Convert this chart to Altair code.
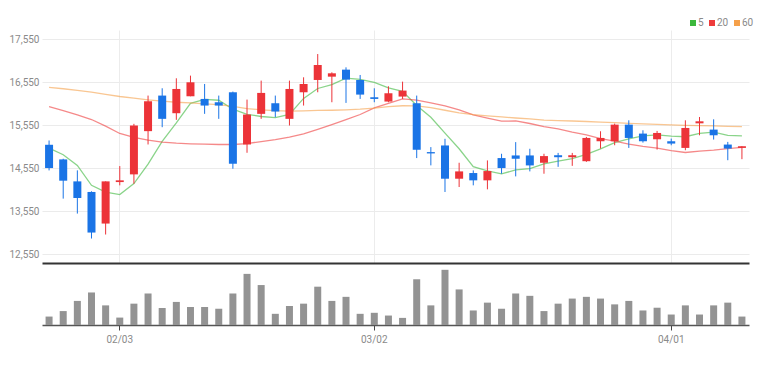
import altair as alt
import pandas as pd

dates = ["01/24", "01/25", "01/26", "01/27", "01/28",
         "02/03", "02/04", "02/07", "02/08", "02/09", "02/10", "02/11",
         "02/14", "02/15", "02/16", "02/17", "02/18",
         "02/21", "02/22", "02/23", "02/24", "02/25", "02/28",
         "03/02", "03/03", "03/04", "03/07", "03/08", "03/10", "03/11",
         "03/14", "03/15", "03/16", "03/17", "03/18",
         "03/21", "03/22", "03/23", "03/24", "03/25",
         "03/28", "03/29", "03/30", "03/31", "04/01",
         "04/04", "04/05", "04/06", "04/07", "04/08"]

open_ = [15097, 14757, 14246, 14000, 13265, 14230, 14409, 15414, 16241, 15831,
         16225, 16163, 16086, 16318, 15104, 15816, 16063, 15700, 16318, 16604,
         16681, 16844, 16604, 16202, 16102, 16218, 16063, 14927, 15081, 14308,
         14440, 14270, 14788, 14849, 14849, 14679, 14854, 14808, 14715, 15179,
         15179, 15565, 15357, 15225, 15179, 15024, 15596, 15450, 15102, 15024]
high = [15197, 14772, 14502, 14015, 14246, 14602, 15584, 16241, 16411, 16643,
        16705, 16511, 16241, 16334, 16148, 16589, 16241, 16589, 16666, 17207,
        16782, 16898, 16720, 16411, 16457, 16565, 16241, 15043, 15236, 14679,
        14501, 14733, 14888, 15159, 15004, 14888, 14908, 14908, 15279, 15411,
        15589, 15666, 15434, 15419, 15241, 15666, 15743, 15689, 15164, 15063]
low = [14501, 13845, 13497, 12917, 13010, 14154, 14192, 15104, 15506, 15677,
       16225, 15816, 15700, 14540, 14911, 15700, 15738, 15545, 16009, 16318,
       16086, 16071, 16163, 16086, 16086, 16163, 14788, 14618, 13999, 14115,
       14154, 14061, 14424, 14362, 14478, 14424, 14584, 14607, 14700, 15009,
       15086, 15024, 15148, 14986, 15086, 14970, 15318, 15218, 14738, 14762]
close = [14556, 14262, 13860, 13056, 14246, 14270, 15545, 16109, 15700, 16395,
         16550, 16009, 16009, 14656, 15800, 16303, 15870, 16395, 16511, 16952,
         16759, 16612, 16264, 16163, 16295, 16357, 14981, 14896, 14308, 14478,
         14270, 14486, 14556, 14772, 14617, 14834, 14808, 14854, 15256, 15256,
         15565, 15256, 15179, 15372, 15125, 15488, 15643, 15318, 15009, 15063]
volume = [83, 137, 237, 320, 193, 73, 210, 310, 167, 227,
          177, 177, 160, 310, 503, 393, 110, 187, 210, 377,
          237, 277, 110, 120, 93, 70, 450, 193, 543, 350,
          143, 220, 160, 310, 287, 137, 210, 260, 277, 260,
          203, 237, 143, 170, 103, 193, 103, 193, 220, 83]

ma5 = [15019, 14865, 14617, 14154, 13996, 13939, 14195, 14645, 15174, 15604,
       16060, 16153, 16133, 15924, 15805, 15755, 15728, 15805, 16176, 16406,
       16497, 16646, 16620, 16550, 16419, 16338, 16012, 15738, 15367, 15004,
       14587, 14488, 14420, 14512, 14540, 14653, 14717, 14777, 14874, 15002,
       15148, 15237, 15302, 15326, 15299, 15284, 15361, 15389, 15317, 15304]
ma20 = [15986, 15893, 15792, 15684, 15530, 15360, 15267, 15205, 15159, 15135,
        15120, 15112, 15104, 15104, 15126, 15172, 15218, 15274, 15350, 15453,
        15563, 15680, 15801, 15956, 16058, 16163, 16135, 16074, 16004, 15908,
        15794, 15718, 15646, 15651, 15592, 15519, 15466, 15389, 15326, 15241,
        15181, 15114, 15059, 15020, 14961, 14918, 14951, 14972, 15007, 15036]
ma60 = [16434, 16400, 16360, 16320, 16270, 16220, 16180, 16140, 16110, 16086,
        16070, 16050, 16030, 15990, 15940, 15910, 15890, 15880, 15885, 15895,
        15900, 15910, 15925, 15950, 15985, 16005, 16000, 15960, 15900, 15840,
        15800, 15770, 15745, 15720, 15700, 15670, 15660, 15650, 15638, 15625,
        15610, 15597, 15585, 15572, 15560, 15550, 15542, 15535, 15527, 15520]

y_ticks = [12550, 13550, 14550, 15550, 16550, 17550]
x_ticks = ["02/03", "03/02", "04/01"]
ma_names = ["5", "20", "60"]

FONT = "Liberation Sans Narrow, Roboto, sans-serif"
RED = "#ec3338"
BLUE = "#1a74e6"
ma_colors = ["#3cb83c", "#ee3b3b", "#f5a04a"]
LABEL = "#8a8a8a"

df = pd.DataFrame({"d": dates, "o": open_, "h": high, "l": low, "c": close, "v": volume})
df["dir"] = ["up" if c >= o else "down" for o, c in zip(open_, close)]

ma_df = pd.DataFrame({
    "d": dates * 3,
    "s": [ma_names[0]] * len(dates) + [ma_names[1]] * len(dates) + [ma_names[2]] * len(dates),
    "ma": ma5 + ma20 + ma60,
})

W = 707
xscale = alt.Scale(domain=dates, paddingInner=0, paddingOuter=0)
yscale = alt.Scale(domain=[12348, 17766], nice=False, zero=False)

x_price = alt.X("d:O", sort=None, scale=xscale, title=None,
                axis=alt.Axis(values=x_ticks, labels=False, ticks=False, grid=True,
                              gridColor="#ececec", domainColor="#333333", domainWidth=2,
                              bandPosition=0.5))
y_axis = alt.Axis(values=y_ticks, format=",d", grid=True, gridColor="#ebebeb",
                  domain=False, ticks=False, labelPadding=3,
                  labelColor=LABEL, labelFontSize=10, labelFont=FONT)
color_dir = alt.Color("dir:N", scale=alt.Scale(domain=["up", "down"], range=[RED, BLUE]), legend=None)

ma_legend = alt.Legend(
    orient="none", legendX=646, legendY=-12, direction="horizontal",
    title=None, symbolType="square", symbolSize=9, symbolStrokeWidth=3, symbolOpacity=1,
    labelFontSize=10, labelColor=LABEL, labelFont=FONT, labelOffset=0,
    columnPadding=0, padding=0, gridAlign="none",
)

lines = alt.Chart(ma_df).mark_line(strokeWidth=1.3, strokeOpacity=0.6).encode(
    x=x_price,
    y=alt.Y("ma:Q", scale=yscale, axis=y_axis, title=None),
    stroke=alt.Stroke("s:N", scale=alt.Scale(domain=ma_names, range=ma_colors), legend=ma_legend),
)

wicks = alt.Chart(df).mark_rule(strokeWidth=1).encode(
    x=alt.X("d:O", sort=None, scale=xscale),
    y=alt.Y("l:Q", scale=yscale, axis=y_axis, title=None),
    y2="h:Q",
    color=color_dir,
)
bodies = alt.Chart(df).mark_bar(size=8).encode(
    x=alt.X("d:O", sort=None, scale=xscale),
    y=alt.Y("o:Q", scale=yscale, axis=y_axis, title=None),
    y2="c:Q",
    color=color_dir,
)

price = alt.layer(lines, wicks, bodies).properties(width=W, height=233)

vol = alt.Chart(df).mark_bar(size=7, color="#939393").encode(
    x=alt.X("d:O", sort=None, scale=xscale, title=None,
            axis=alt.Axis(values=x_ticks, grid=False, domainColor="#555555", domainWidth=1.5,
                          tickColor="#444444", tickSize=5, labelColor=LABEL, labelFontSize=10,
                          labelFont=FONT, labelPadding=4, labelAngle=0, bandPosition=0.5)),
    y=alt.Y("v:Q", scale=alt.Scale(domain=[0, 610], nice=False), axis=None),
).properties(width=W, height=62)

chart = alt.vconcat(price, vol, spacing=0, bounds="flush").properties(
    padding={"left": 0, "top": 10, "right": 2, "bottom": 2}
).configure_view(strokeWidth=0).resolve_scale(x="shared")

chart.save("out.html", embed_options={"renderer": "svg", "actions": False})
